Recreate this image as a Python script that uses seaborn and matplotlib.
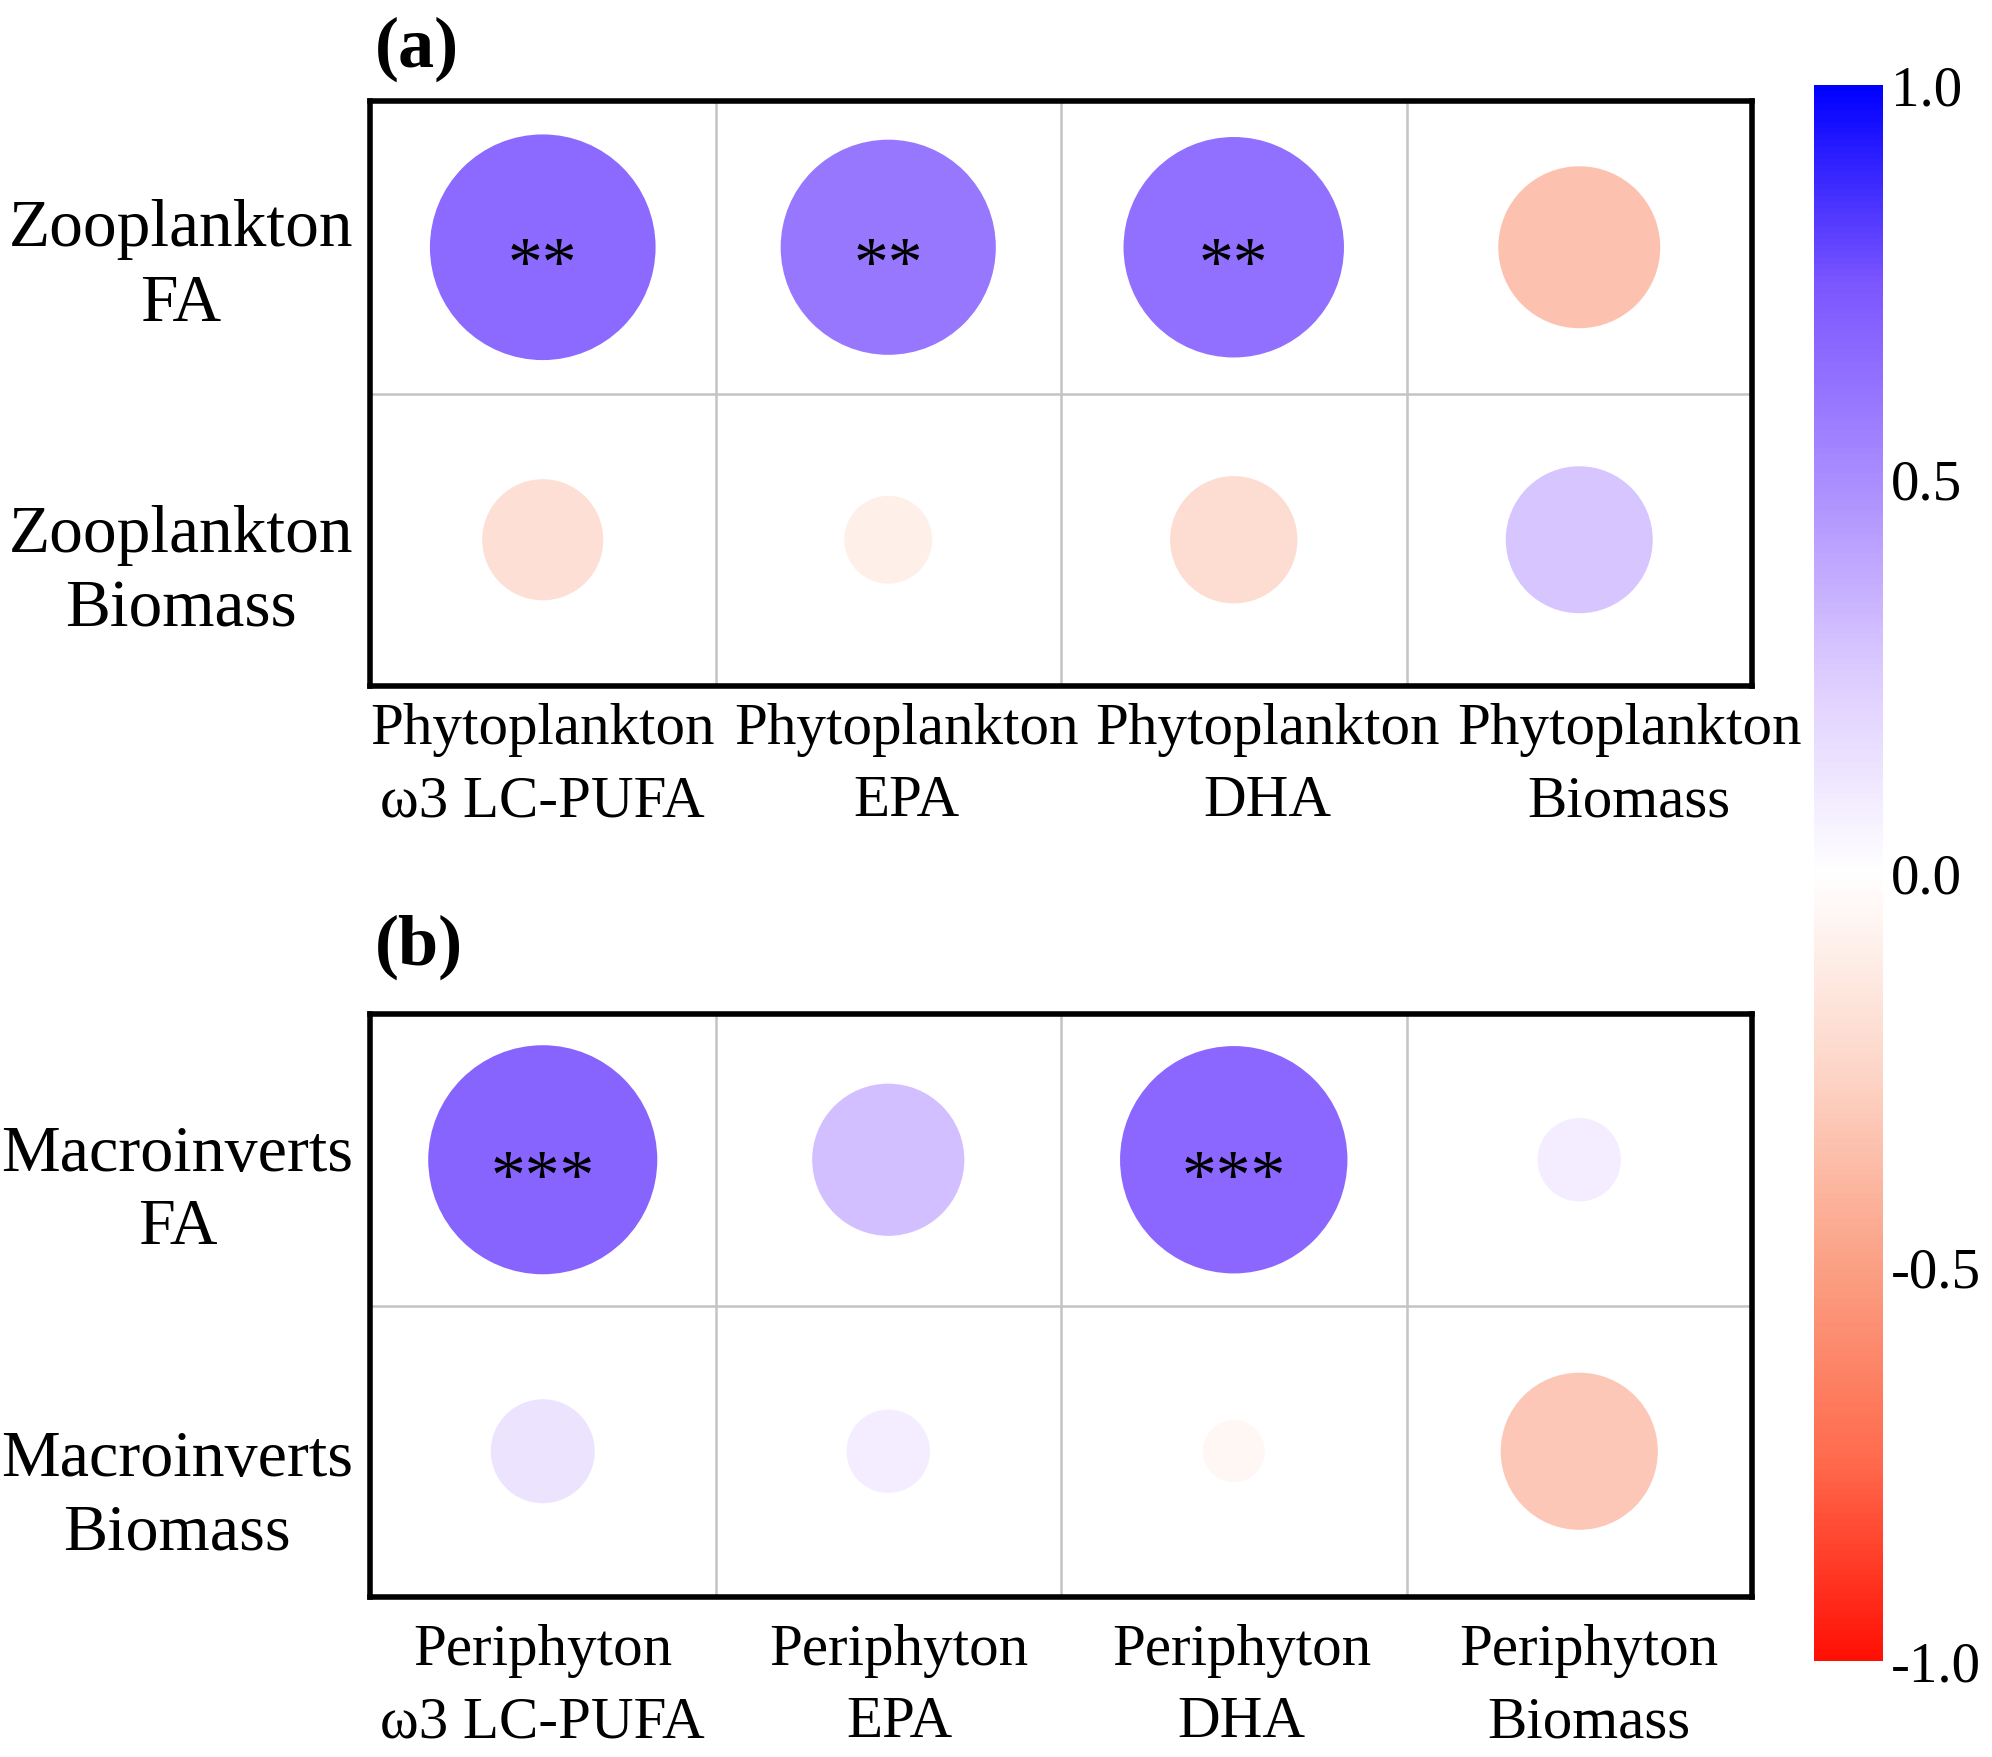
import numpy as np
import pandas as pd
import matplotlib
matplotlib.use("Agg")
import matplotlib.pyplot as plt
import seaborn as sns
from matplotlib.colors import LinearSegmentedColormap, Normalize
from matplotlib.transforms import ScaledTranslation
import matplotlib.cm as cm

# ---- data ----
a_rows = ["Zooplankton\nFA", "Zooplankton\nBiomass"]
a_cols = ["Phytoplankton\nω3 LC-PUFA", "Phytoplankton\nEPA", "Phytoplankton\nDHA", "Phytoplankton\nBiomass"]
a_vals = [[0.66, 0.60, 0.63, -0.34],
          [-0.19, -0.10, -0.21, 0.28]]
a_sig = [["**", "**", "**", ""],
         ["", "", "", ""]]

b_rows = ["Macroinverts\nFA", "Macroinverts\nBiomass"]
b_cols = ["Periphyton\nω3 LC-PUFA", "Periphyton\nEPA", "Periphyton\nDHA", "Periphyton\nBiomass"]
b_vals = [[0.68, 0.30, 0.67, 0.09],
          [0.14, 0.09, -0.05, -0.32]]
b_sig = [["***", "", "***", ""],
         ["", "", "", ""]]

cbar_ticks = [-1.0, -0.5, 0.0, 0.5, 1.0]
cbar_labels = ["-1.0", "-0.5", "0.0", "0.5", "1.0"]

# ---- style ----
sns.set_theme(style="white")
plt.rcParams['font.family'] = ['Liberation Serif', 'DejaVu Serif']
for k in ["text.color", "xtick.color", "ytick.color", "axes.labelcolor"]:
    plt.rcParams[k] = "black"

cmap = LinearSegmentedColormap.from_list(
    "rwb",
    [(0.0, "#FF1005"), (0.125, "#FF6A4C"), (0.25, "#FBA084"), (0.375, "#FDD6C8"),
     (0.5, "#FFFFFF"), (0.625, "#DDCCFF"), (0.75, "#AA8DFF"), (0.875, "#7C56FF"),
     (1.0, "#0000FF")])

W, H = 1992, 1758
fig = plt.figure(figsize=(W / 100, H / 100), dpi=100)

def px_axes(x0, y0, x1, y1):
    return fig.add_axes([x0 / W, 1 - y1 / H, (x1 - x0) / W, (y1 - y0) / H])

ax_a = px_axes(370, 102, 1752, 687)
ax_b = px_axes(370, 1015, 1752, 1598)
cax = px_axes(1814, 86, 1883, 1662)

SMAX = 40000

def panel(ax, rows, cols, vals, sig, xoffs, yoffs, xpad, yfs):
    recs = []
    for i, r in enumerate(rows):
        for j, c in enumerate(cols):
            v = vals[i][j]
            recs.append(dict(x=j, y=i, r=v, a=abs(v), s=sig[i][j]))
    df = pd.DataFrame(recs)
    sns.scatterplot(data=df, x="x", y="y", hue="r", size="a", palette=cmap,
                    hue_norm=(-1, 1), sizes=(0, SMAX), size_norm=(0, 1),
                    linewidth=0, legend=False, ax=ax, zorder=3)
    for _, rr in df.iterrows():
        if rr["s"]:
            ax.text(rr["x"], rr["y"] + 0.07, rr["s"], ha="center", va="center",
                    fontsize=50, color="black", zorder=4)
    ax.set_xlim(-0.5, len(cols) - 0.5)
    ax.set_ylim(len(rows) - 0.5, -0.5)
    for k in range(1, len(cols)):
        ax.axvline(k - 0.5, color="#C4C4C4", lw=1.8, zorder=1)
    for k in range(1, len(rows)):
        ax.axhline(k - 0.5, color="#C4C4C4", lw=1.8, zorder=1)
    ax.set_xticks(range(len(cols)))
    ax.set_yticks(range(len(rows)))
    ax.set_xticklabels(cols, fontsize=42.5, linespacing=1.45)
    ax.set_yticklabels(rows, fontsize=yfs, multialignment="center", linespacing=1.3)
    ax.tick_params(axis="both", length=0)
    ax.tick_params(axis="x", pad=xpad)
    ax.tick_params(axis="y", pad=12)
    for k, lbl in enumerate(ax.get_xticklabels()):
        lbl.set_transform(lbl.get_transform() + ScaledTranslation(xoffs[k] / 100, 0, fig.dpi_scale_trans))
    for k, lbl in enumerate(ax.get_yticklabels()):
        lbl.set_transform(lbl.get_transform() + ScaledTranslation(0, -yoffs[k] / 100, fig.dpi_scale_trans))
    ax.set_xlabel("")
    ax.set_ylabel("")
    for sp in ax.spines.values():
        sp.set_visible(True)
        sp.set_color("black")
        sp.set_linewidth(4)
    ax.set_facecolor("white")

panel(ax_a, a_rows, a_cols, a_vals, a_sig, [0, 18, 34, 50], [5, 18], 11.5, 48.5)
panel(ax_b, b_rows, b_cols, b_vals, b_sig, [0, 11, 8, 10], [17, 31], 18.5, 47.5)

fig.text(375 / W, 1 - 49 / H, "(a)", fontsize=52, fontweight="bold", ha="left", va="center")
fig.text(375 / W, 1 - 947 / H, "(b)", fontsize=52, fontweight="bold", ha="left", va="center")

# ---- colorbar ----
sm = cm.ScalarMappable(norm=Normalize(-1, 1), cmap=cmap)
cb = fig.colorbar(sm, cax=cax, ticks=cbar_ticks)
cb.outline.set_visible(False)
cb.ax.set_yticklabels(cbar_labels, fontsize=41)
cb.ax.tick_params(axis="y", direction="in", length=11, width=1.2, color="white",
                  left=True, right=True, pad=6)

fig.savefig("out.png", dpi=100, facecolor="white")
